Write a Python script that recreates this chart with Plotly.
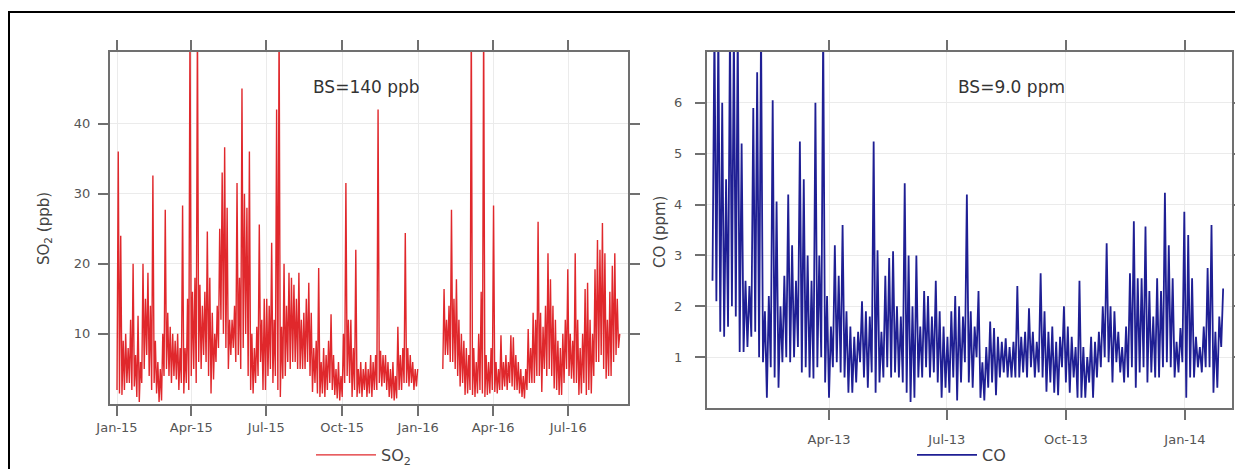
import datetime as dt
import plotly.graph_objects as go

# ---------------- data ----------------
# SO2 (ppb): 3-day windows, each with a high and a low value
so2_start_a = "2015-01-01"
so2_hi_a = [36, 24, 9, 10, 8, 12, 20, 7, 12.6, 6, 20, 15, 18.7, 14, 32.6, 9, 6, 5, 10, 27.7,
            13, 11, 10, 9, 10, 8, 28.3, 8, 15, 55, 16, 18, 55, 17, 14, 16, 24.6, 18, 13, 10,
            14, 25, 33, 36.6, 28, 12, 12, 14, 31.5, 18, 45, 30, 28, 36, 10, 8, 11, 25.6, 12, 15,
            15, 14, 23, 12, 42, 55, 11, 20, 14, 18.7, 18, 17, 15, 18.7, 12, 13, 15, 17.3, 13, 8,
            9, 19.4, 6, 8, 7, 9, 12.8, 7, 5, 6, 4, 10, 31.5, 12, 12, 8, 22, 5, 6, 5,
            6, 5, 7, 6, 7, 42, 7.6, 7, 7, 6, 5, 6, 4, 11, 7, 8, 24.4, 8, 7, 6,
            5, 5]
so2_lo_a = [2, 1.5, 1.3, 2, 3, 3, 2, 2.5, 1, 0.3, 3, 5, 7, 4, 2, 3, 1.5, 0.3, 0.5, 4,
            5, 4, 3, 4, 3.5, 2, 3, 1.5, 3, 2, 4, 5, 3, 6, 5, 7, 6, 4, 1.5, 3.5,
            6, 8, 12, 10, 8, 5, 7, 8, 6, 7, 5, 8, 10, 4, 2, 1.5, 3, 4, 6, 2,
            2, 4, 5, 3, 4, 2, 1, 3.6, 4, 6, 5, 6, 6, 5, 5, 5, 5, 6, 4, 1.7,
            3, 1.5, 1, 1.5, 1, 2, 3, 2, 1.3, 0.8, 0.5, 1, 3, 4, 3, 1, 2, 1, 1.5, 1,
            2, 1, 1.5, 1, 2, 2, 3, 2.5, 3, 2, 1, 0.8, 0.5, 0.8, 2, 2, 3, 3, 2.5, 3,
            2, 2.5]

so2_start_b = "2016-01-31"
so2_hi_b = [16.4, 12, 14, 27.7, 15, 17.8, 12, 10, 9, 8, 7, 55, 8, 6, 10, 16, 55, 7, 6, 8,
            28.3, 6, 5, 9.8, 6, 7, 6, 9.8, 9.5, 7, 6, 5, 4, 5, 10.7, 8, 13, 12, 26, 13,
            11, 14, 21.5, 17.8, 14, 12, 9, 8, 10, 12, 19.2, 10, 9, 21.5, 12, 8, 10, 16.4, 17.3, 12,
            10, 19.2, 23.4, 22, 25.8, 21.5, 12, 16, 19.7, 21.5, 15, 10]
so2_lo_b = [5, 7, 7, 6, 6, 5, 4, 2.5, 3, 1.3, 1.5, 2, 1.3, 1, 1.5, 2, 1.5, 1, 1.3, 1.5,
            2, 1.7, 1.5, 2, 2, 2.5, 2, 3, 2.5, 2, 2, 1.5, 1, 0.8, 2, 3, 3, 3, 4, 4,
            1.7, 5, 4, 5, 4, 2.2, 2, 1.3, 1.3, 3, 5, 4, 3.6, 3, 3, 1.3, 1.5, 3, 1.3, 2,
            1.5, 4, 6, 6, 7, 5, 3.6, 4, 4, 6, 7, 8]

# CO (ppm): 3-day windows, each with a high and a low value
co_start = "2013-01-01"
co_hi = [7.5, 7.5, 6.0, 4.5, 7.5, 7.5, 7.5, 5.2, 2.5, 2.4, 5.9, 6.6, 7.5, 1.9, 2.2, 6.05, 4.06, 2.0, 2.6, 4.2,
         3.2, 2.5, 5.24, 4.5, 3.0, 2.5, 6.0, 3.0, 7.5, 2.2, 1.6, 3.2, 2.6, 3.6, 1.9, 1.6, 1.4, 1.5, 2.1, 1.9,
         1.8, 5.24, 3.1, 1.5, 2.6, 2.95, 3.08, 2.0, 1.8, 4.42, 3.0, 2.0, 3.0, 1.6, 2.3, 2.2, 1.8, 2.5, 1.9, 1.6,
         1.4, 1.9, 2.2, 2.0, 1.8, 4.2, 1.9, 1.6, 2.3, 0.9, 1.2, 1.7, 1.57, 1.4, 1.3, 1.37, 1.2, 1.3, 2.4, 1.4,
         1.5, 1.96, 1.5, 1.3, 2.65, 1.9, 1.5, 1.6, 1.3, 1.4, 2.0, 1.6, 1.4, 1.2, 2.5, 1.2, 1.0, 1.4, 1.3, 1.5,
         2.0, 3.24, 2.0, 1.9, 1.5, 1.2, 1.6, 2.65, 3.67, 2.55, 2.55, 3.57, 2.3, 1.8, 2.55, 2.3, 4.23, 3.2, 2.55, 1.3,
         1.57, 3.86, 3.4, 2.55, 1.4, 1.2, 1.6, 2.75, 3.6, 1.5, 1.8, 2.35]
co_lo = [2.5, 2.1, 1.5, 1.4, 1.6, 2.0, 1.8, 1.1, 1.1, 1.2, 1.4, 1.5, 1.0, 0.9, 0.2, 0.8, 0.6, 0.4, 0.9, 1.0,
         0.9, 1.0, 1.2, 0.7, 0.8, 0.6, 0.58, 0.8, 1.0, 0.5, 0.2, 0.8, 0.9, 0.7, 0.6, 0.3, 0.3, 0.5, 0.9, 0.6,
         0.4, 0.7, 0.3, 0.5, 0.6, 0.8, 0.6, 0.7, 0.6, 0.5, 0.3, 0.12, 0.2, 0.6, 0.6, 0.8, 0.6, 0.7, 0.5, 0.2,
         0.4, 0.3, 0.6, 0.15, 0.5, 0.9, 0.5, 0.4, 1.0, 0.2, 0.15, 0.4, 0.5, 0.25, 0.6, 0.7, 0.6, 0.6, 0.6, 0.6,
         0.7, 0.6, 0.8, 0.6, 0.7, 0.6, 0.32, 0.5, 0.3, 0.25, 0.8, 0.5, 0.3, 0.6, 0.2, 0.2, 0.2, 0.5, 0.2, 0.6,
         0.8, 1.0, 0.9, 0.5, 0.9, 0.7, 0.5, 0.6, 0.8, 0.4, 0.7, 0.8, 0.5, 0.7, 0.6, 0.6, 0.8, 0.9, 0.8, 0.6,
         0.7, 0.9, 0.2, 0.6, 0.6, 0.8, 0.7, 0.8, 0.8, 0.3, 0.4, 1.2]

so2_ticks = ["2015-01-01", "2015-04-01", "2015-07-01", "2015-10-01", "2016-01-01", "2016-04-01", "2016-07-01"]
so2_ticktext = ["Jan-15", "Apr-15", "Jul-15", "Oct-15", "Jan-16", "Apr-16", "Jul-16"]
co_ticks = ["2013-04-01", "2013-07-01", "2013-10-01", "2014-01-01"]
co_ticktext = ["Apr-13", "Jul-13", "Oct-13", "Jan-14"]
so2_yticks = [10, 20, 30, 40]
co_yticks = [1, 2, 3, 4, 5, 6]


def windows_to_xy(start, hi, lo, step=3):
    """Each window contributes its low then its high value."""
    t0 = dt.datetime.fromisoformat(start)
    xs, ys = [], []
    for i, (h, l) in enumerate(zip(hi, lo)):
        base = t0 + dt.timedelta(days=step * i)
        xs += [base, base + dt.timedelta(days=step / 2)]
        ys += [l, h]
    return xs, ys


xa, ya = windows_to_xy(so2_start_a, so2_hi_a, so2_lo_a)
xb, yb = windows_to_xy(so2_start_b, so2_hi_b, so2_lo_b)
so2_x = xa + [None] + xb
so2_y = ya + [None] + yb
co_x, co_y = windows_to_xy(co_start, co_hi, co_lo)

W, H = 1243, 469
OFF = 8  # page body margin
FONT = "DejaVu Sans"


def px(x):
    return (x - OFF) / W


def py(y):
    return (H - (y - OFF)) / H


fig = go.Figure()
fig.add_trace(go.Scatter(x=so2_x, y=so2_y, mode="lines", name="SO<sub>2</sub>",
                         line=dict(color="#e0282c", width=1.4), connectgaps=False,
                         xaxis="x", yaxis="y", legend="legend"))
fig.add_trace(go.Scatter(x=co_x, y=co_y, mode="lines", name="CO",
                         line=dict(color="#1f1f94", width=1.8),
                         xaxis="x2", yaxis="y2", legend="legend2"))

axis_common = dict(showline=True, linecolor="#707070", linewidth=2, mirror="ticks",
                   ticks="outside", ticklen=10, tickwidth=1.5, tickcolor="#707070",
                   showgrid=True, gridcolor="#ebebeb", gridwidth=1, zeroline=False,
                   tickfont=dict(family=FONT, size=13, color="#555555"))

fig.update_layout(
    width=W, height=H,
    margin=dict(l=0, r=0, t=0, b=0, pad=0, autoexpand=False),
    paper_bgcolor="white", plot_bgcolor="white",
    font=dict(family=FONT, color="#444444"),
    xaxis=dict(domain=[px(110), px(628)], anchor="y", type="date",
               range=["2014-12-23 12:00", "2016-09-11 12:00"],
               tickvals=so2_ticks, ticktext=so2_ticktext, ticklabelstandoff=0, **axis_common),
    yaxis=dict(domain=[py(404), py(52)], anchor="x", range=[0, 50.2],
               tickvals=so2_yticks, ticklabelstandoff=5, **axis_common),
    xaxis2=dict(domain=[px(707), px(1232)], anchor="y2", type="date",
                range=["2012-12-27 18:00", "2014-02-06 08:00"],
                tickvals=co_ticks, ticktext=co_ticktext, ticklabelstandoff=8, **axis_common),
    yaxis2=dict(domain=[py(408), py(52)], anchor="x2", range=[0, 7.0],
                tickvals=co_yticks, ticklabelstandoff=10, **axis_common),
    legend=dict(x=px(311), y=py(455), xanchor="left", yanchor="middle",
                font=dict(family=FONT, size=16, color="#444444"),
                bgcolor="rgba(0,0,0,0)", itemwidth=60),
    legend2=dict(x=px(912), y=py(455), xanchor="left", yanchor="middle",
                 font=dict(family=FONT, size=16, color="#444444"),
                 bgcolor="rgba(0,0,0,0)", itemwidth=60),
    showlegend=True,
)

fig.add_annotation(x=px(366), y=py(87), xref="paper", yref="paper", text="BS=140 ppb",
                   xanchor="center", yanchor="middle",
                   showarrow=False, font=dict(family=FONT, size=17, color="#333333"))
fig.add_annotation(x=px(1011), y=py(87), xref="paper", yref="paper", text="BS=9.0 ppm",
                   xanchor="center", yanchor="middle",
                   showarrow=False, font=dict(family=FONT, size=17, color="#333333"))
fig.add_annotation(x=px(44), y=py(229), xref="paper", yref="paper", text="SO<sub>2</sub> (ppb)",
                   xanchor="center", yanchor="middle",
                   textangle=-90, showarrow=False, font=dict(family=FONT, size=15, color="#444444"))
fig.add_annotation(x=px(660), y=py(232), xref="paper", yref="paper", text="CO (ppm)",
                   xanchor="center", yanchor="middle",
                   textangle=-90, showarrow=False, font=dict(family=FONT, size=15, color="#444444"))

# outer frame
fig.add_shape(type="rect", xref="paper", yref="paper", x0=px(9), x1=px(1241), y0=-0.05, y1=py(12),
              line=dict(color="black", width=2), fillcolor="rgba(0,0,0,0)", layer="above")

fig.write_html("out.html")
